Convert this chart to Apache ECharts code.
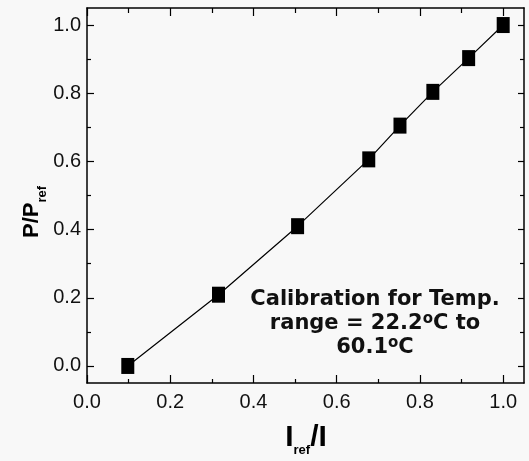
<!DOCTYPE html>
<html>
<head>
<meta charset="utf-8">
<script src="https://cdn.jsdelivr.net/npm/echarts@6/dist/echarts.min.js"></script>
<style>
html,body{margin:0;padding:0;background:#f8f8f8;}
#c{width:529px;height:461px;}
</style>
</head>
<body>
<div id="c"></div>
<script>
// Data
const xValues = [0.098, 0.316, 0.506, 0.677, 0.752, 0.831, 0.917, 1.0];
const yValues = [0.0, 0.209, 0.41, 0.606, 0.705, 0.804, 0.903, 1.0];
const xMajorTicks = [0.0, 0.2, 0.4, 0.6, 0.8, 1.0];
const xMinorTicks = [0.1, 0.3, 0.5, 0.7, 0.9];
const yMajorTicks = [0.0, 0.2, 0.4, 0.6, 0.8, 1.0];
const yMinorTicks = [0.1, 0.3, 0.5, 0.7, 0.9];
const xTitle = ['I', 'ref', '/I'];
const yTitle = ['P/P', 'ref'];
const noteLines = ['Calibration for Temp.', 'range = 22.2', 'o', 'C to', '60.1', 'o', 'C'];

const FONT = "'Liberation Sans', Arial, sans-serif";
const X_RANGE = [0, 1.05];
const Y_RANGE = [-0.05, 1.05];
const lineStyle = {color: '#000', width: 1.5};

function makeAxis(kind, position, ticks, len, showLine, showLabels) {
  const range = kind === 'x' ? X_RANGE : Y_RANGE;
  return {
    type: 'value',
    position: position,
    min: range[0], max: range[1],
    splitLine: {show: false},
    axisLine: {show: showLine, onZero: false, lineStyle: lineStyle},
    axisTick: {show: true, inside: true, length: len, customValues: ticks,
               lineStyle: {color: '#000', width: 1.2}},
    minorTick: {show: false},
    axisLabel: showLabels ? {
      show: true, customValues: ticks, margin: kind === 'x' ? 9 : 6,
      color: '#111', fontSize: 20, fontFamily: FONT,
      formatter: v => v.toFixed(1)
    } : {show: false}
  };
}

const chart = echarts.init(document.getElementById('c'), null, {renderer: 'canvas'});
chart.setOption({
  backgroundColor: '#f8f8f8',
  animation: false,
  grid: {left: 87, right: 5, top: 8, bottom: 78, containLabel: false},
  xAxis: [
    makeAxis('x', 'bottom', xMajorTicks, 8, true, true),
    makeAxis('x', 'bottom', xMinorTicks, 4, false, false),
    makeAxis('x', 'top', xMajorTicks, 8, true, false),
    makeAxis('x', 'top', xMinorTicks, 5, false, false)
  ],
  yAxis: [
    makeAxis('y', 'left', yMajorTicks, 7, true, true),
    makeAxis('y', 'left', yMinorTicks, 4, false, false),
    makeAxis('y', 'right', yMajorTicks, 6, true, false),
    makeAxis('y', 'right', yMinorTicks, 4, false, false)
  ],
  series: [{
    type: 'line',
    xAxisIndex: 0, yAxisIndex: 0,
    data: xValues.map((x, i) => [x, yValues[i]]),
    symbol: 'rect',
    symbolSize: [13, 16],
    itemStyle: {color: '#000'},
    lineStyle: {color: '#000', width: 1.2},
    z: 3
  }],
  graphic: [
    {
      type: 'text',
      x: 306, y: 439,
      style: {
        text: '{b|' + xTitle[0] + '}{s|' + xTitle[1] + '}{b|' + xTitle[2] + '}',
        align: 'center', verticalAlign: 'middle',
        rich: {
          b: {fontSize: 30, fontWeight: 'bold', fontFamily: FONT, lineHeight: 32, verticalAlign: 'top', fill: '#000'},
          s: {fontSize: 13, fontWeight: 'bold', fontFamily: FONT, lineHeight: 14, padding: [21, 0, 0, 0], verticalAlign: 'top', fill: '#000'}
        }
      }
    },
    {
      type: 'text',
      x: 33, y: 212,
      rotation: Math.PI / 2,
      style: {
        text: '{b|' + yTitle[0] + '}{s|' + yTitle[1] + '}',
        align: 'center', verticalAlign: 'middle',
        rich: {
          b: {fontSize: 22, fontWeight: 'bold', fontFamily: FONT, lineHeight: 24, verticalAlign: 'top', fill: '#000'},
          s: {fontSize: 13, fontWeight: 'bold', fontFamily: FONT, lineHeight: 14, padding: [15, 0, 0, 0], verticalAlign: 'top', fill: '#000'}
        }
      }
    },
    {
      type: 'text',
      x: 375, y: 324,
      style: {
        text: noteLines[0] + '\n' + noteLines[1] + '{sup|' + noteLines[2] + '}' + noteLines[3] + '\n' + noteLines[4] + '{sup|' + noteLines[5] + '}' + noteLines[6],
        align: 'center', verticalAlign: 'middle',
        fontSize: 21, fontWeight: 'bold', fontFamily: "'DejaVu Sans', sans-serif",
        lineHeight: 24, fill: '#111',
        rich: {
          sup: {fontSize: 15, fontWeight: 'bold', fontFamily: "'DejaVu Sans', sans-serif", lineHeight: 15, verticalAlign: 'top', fill: '#111'}
        }
      }
    }
  ]
});
</script>
</body>
</html>
